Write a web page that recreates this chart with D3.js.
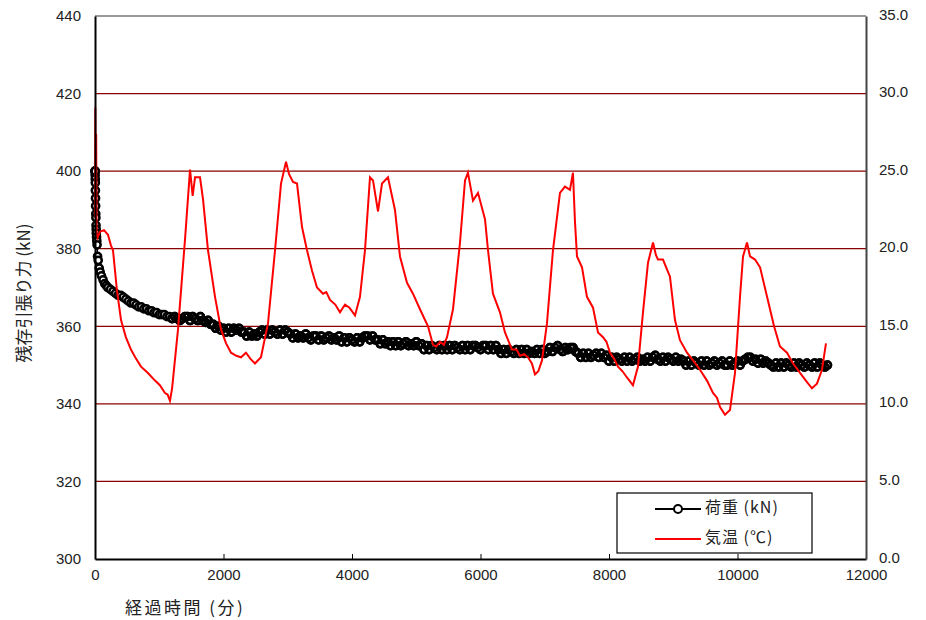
<!DOCTYPE html>
<html>
<head>
<meta charset="utf-8">
<script src="https://cdn.jsdelivr.net/npm/d3@7"></script>
<style>
  body { margin: 0; background: #fff; }
  text { font-family: "Liberation Sans", Arial, sans-serif; }
</style>
</head>
<body>
<div id="viz"></div>
<script>
// load readings (kN) in the first minutes
var loadEarlyMin = [0, 1, 2, 3, 4, 5, 6, 8, 10, 12, 14, 16, 18, 20, 24, 28, 32, 40, 50, 65, 80, 100, 125, 150, 175, 200];
var loadEarlyKN  = [400, 400, 399, 400, 398, 397, 395, 393, 391, 389, 388, 386, 385, 384, 383, 382, 381, 378, 377, 375, 374, 373, 372, 371, 370.5, 370];

// load readings (kN) every 40 min from 240 to 11400 min
var loadStep = 40, loadStart = 240;
var loadKN = [
  369.5, 369, 368.5, 368, 368, 367.5, 367, 366.5, 366, 366,
  365.5, 365, 365, 364.5, 364.5, 364, 364, 363.5, 363.5, 363,
  363, 363, 362.5, 362.5, 362, 362.5, 362, 361.5, 362, 362.5,
  362.5, 361.5, 362.5, 362, 361.5, 362.5, 361.5, 361, 361.5, 360.5,
  360.5, 359.5, 360, 359, 359.5, 358.5, 359.5, 358.5, 359.5, 359,
  359.5, 358.5, 358.5, 357.5, 358.5, 357.5, 358, 357.5, 358.5, 359,
  358, 359, 358, 359, 358.5, 358, 359, 358, 359, 358.5,
  358, 357, 358, 357, 357.5, 357, 358, 357, 356.5, 357.5,
  357.5, 356.5, 357.5, 356.5, 357, 357.5, 356.5, 357, 356.5, 357.5,
  356, 357, 356, 357, 356.5, 356, 357, 356, 357, 357.5,
  357.5, 356.5, 357.5, 356.5, 356.5, 355.5, 356.5, 355.5, 356, 355,
  356, 355, 356, 355, 355.5, 356, 355, 355.5, 355, 356,
  355, 355.5, 354, 355, 354, 355, 354.5, 354, 355, 354,
  355, 354, 355, 354, 355, 354.5, 354, 355, 354, 355,
  354, 355, 355, 354.5, 354, 355, 355, 354, 355, 354,
  355, 354, 353, 354, 353, 354, 353.5, 353, 354, 353,
  354, 353, 354, 353, 353.5, 353, 354, 353, 354, 353,
  353.5, 354.5, 353.5, 354.5, 355, 354, 353.5, 354.5, 354, 354.5,
  354.5, 353.5, 353, 352, 353, 352, 353, 352, 352.5, 353,
  352, 353, 352, 352.5, 351, 352, 351, 352, 351.5, 351,
  352, 351, 352, 351, 351.5, 352, 351, 351.5, 351, 352,
  351, 352, 352.5, 351.5, 351, 352, 351, 352, 351.5, 351,
  352, 351, 351.5, 351, 350, 351, 350, 351, 350.5, 350,
  351, 350, 351, 350, 350.5, 351, 350, 350.5, 351, 350,
  350, 351, 350, 350.5, 351, 350, 351, 351.5, 352, 352,
  351, 351.5, 350.5, 351.5, 350.5, 351, 350.5, 350, 349.5, 350.5,
  349.5, 350.5, 349.5, 350.5, 350, 349.5, 350.5, 349.5, 350.5, 350,
  349.5, 350.5, 350, 349.5, 350.5, 349.5, 350.5, 350, 349.5, 350
];

// air temperature (deg C)
var tempMin = [0, 5, 12, 18, 25, 40, 78, 140, 202, 249, 280, 342, 405, 480, 560, 640, 716, 820, 934, 1010, 1089, 1130, 1167,
  1200, 1292, 1401, 1479, 1520, 1557, 1634, 1681, 1759, 1868, 1961, 2040, 2117, 2200, 2272, 2350, 2420, 2490, 2583, 2693, 2802,
  2895, 2973, 3020, 3082, 3144, 3222, 3300, 3377, 3455, 3549, 3600, 3658, 3740, 3813, 3891, 3960, 4047, 4124, 4202, 4280,
  4327, 4405, 4467, 4560, 4669, 4747, 4856, 4949, 5058, 5183, 5261, 5310, 5370, 5430, 5479, 5572, 5681, 5759,
  5805, 5883, 5961, 6070, 6117, 6194, 6303, 6381, 6490, 6560, 6615, 6680, 6739, 6800, 6848, 6900, 6957, 7035, 7128, 7237,
  7315, 7393, 7439, 7471, 7502, 7580, 7657, 7751, 7829, 7907, 7960, 8015, 8080, 8140, 8210, 8280, 8373, 8451, 8529,
  8607, 8685, 8730, 8762, 8840, 8949, 9027, 9105, 9214, 9308, 9416, 9525, 9619, 9680, 9728, 9805, 9883, 9961,
  10039, 10086, 10148, 10195, 10273, 10351, 10460, 10569, 10661, 10770, 10864, 10973, 11082, 11159,
  11237, 11315, 11377];
var tempC = [22.0, 29.1, 24.5, 27.4, 21.0, 20.7, 21.1, 21.2, 20.9, 20.2, 19.9, 17.3, 15.4, 14.3, 13.5, 12.9, 12.4, 12.0, 11.5, 11.2, 10.7, 10.6, 10.2,
  11.0, 14.8, 20.6, 25.1, 23.4, 24.6, 24.6, 23.2, 19.9, 16.9, 14.8, 13.9, 13.3, 13.1, 13.0, 13.3, 12.9, 12.6, 13.0, 15.2, 19.9,
  24.2, 25.6, 24.8, 24.3, 24.2, 21.4, 19.9, 18.6, 17.5, 17.1, 17.2, 16.7, 16.4, 15.9, 16.4, 16.2, 15.7, 16.9, 19.9, 24.6,
  24.4, 22.4, 24.2, 24.6, 22.5, 19.5, 17.8, 17.1, 16.1, 15.0, 13.8, 13.7, 14.0, 13.8, 14.3, 16.1, 20.4, 24.4,
  24.9, 23.1, 23.6, 21.9, 19.9, 17.1, 15.9, 14.6, 13.5, 13.5, 13.1, 13.2, 13.0, 12.6, 11.9, 12.1, 12.8, 15.2, 19.9, 23.6,
  24.0, 23.8, 24.9, 21.7, 19.5, 18.8, 16.9, 16.2, 14.6, 14.3, 14.0, 13.3, 12.9, 12.4, 12.1, 11.7, 11.2, 12.4, 15.9,
  19.1, 20.4, 19.6, 19.3, 19.3, 18.2, 15.4, 14.1, 13.3, 12.8, 12.2, 11.5, 10.7, 10.4, 9.8, 9.3, 9.6, 12.0,
  16.9, 19.5, 20.4, 19.5, 19.3, 18.8, 16.9, 15.0, 13.7, 13.3, 12.6, 12.0, 11.4, 11.0,
  11.3, 12.2, 13.9];

var xTicks = [0, 2000, 4000, 6000, 8000, 10000, 12000];
var leftTicks = [300, 320, 340, 360, 380, 400, 420, 440];
var rightTicks = [0, 5, 10, 15, 20, 25, 30, 35];

const margin = {top: 16, right: 60, bottom: 61, left: 95},
    width = 926 - margin.left - margin.right,
    height = 620 - margin.top - margin.bottom;

const svg = d3.select("#viz")
  .append("svg")
    .attr("width", 926)
    .attr("height", 620)
  .append("g")
    .attr("transform", `translate(${margin.left},${margin.top})`);

const x = d3.scaleLinear().domain([0, 12000]).range([0, width]);
const yL = d3.scaleLinear().domain([300, 440]).range([height, 0]);
const yR = d3.scaleLinear().domain([0, 35]).range([height, 0]);

// build load series
var load = loadEarlyMin.map(function(t, i) { return {t: t, v: loadEarlyKN[i]}; });
loadKN.forEach(function(v, i) { load.push({t: loadStart + i * loadStep, v: v}); });
var temp = tempMin.map(function(t, i) { return {t: t, v: tempC[i]}; });

// grid lines
svg.selectAll(".grid")
  .data(leftTicks.filter(function(d) { return d > 300 && d < 440; }))
  .join("line")
    .attr("x1", 0).attr("x2", width)
    .attr("y1", function(d) { return yL(d); })
    .attr("y2", function(d) { return yL(d); })
    .attr("stroke", "#8b0000")
    .attr("stroke-width", 1.2);

// frame top
svg.append("line").attr("x1", 0).attr("x2", width).attr("y1", 0).attr("y2", 0)
  .attr("stroke", "#777").attr("stroke-width", 1.5);

// load line + markers
svg.append("path")
  .datum(load)
  .attr("fill", "none")
  .attr("stroke", "#000")
  .attr("stroke-width", 1.5)
  .attr("d", d3.line().x(function(d) { return x(d.t); }).y(function(d) { return yL(d.v); }));

svg.selectAll(".pt")
  .data(load)
  .join("circle")
    .attr("cx", function(d) { return x(d.t); })
    .attr("cy", function(d) { return yL(d.v); })
    .attr("r", 3.6)
    .attr("fill", "#fff")
    .attr("stroke", "#000")
    .attr("stroke-width", 2.5);

// dense part: ring outlines stacked on top so the band reads as in the original
svg.selectAll(".ring")
  .data(load.filter(function(d) { return d.t >= 1200; }))
  .join("circle")
    .attr("cx", function(d) { return x(d.t); })
    .attr("cy", function(d) { return yL(d.v); })
    .attr("r", 3.6)
    .attr("fill", "none")
    .attr("stroke", "#000")
    .attr("stroke-width", 2.5);

// temperature line
svg.append("path")
  .datum(temp)
  .attr("fill", "none")
  .attr("stroke", "#ff0000")
  .attr("stroke-width", 2)
  .attr("d", d3.line().x(function(d) { return x(d.t); }).y(function(d) { return yR(d.v); }));

// axes
var ax = svg.append("g")
  .attr("transform", `translate(0,${height})`)
  .call(d3.axisBottom(x).tickValues(xTicks).tickSizeInner(-5).tickSizeOuter(0).tickPadding(10).tickFormat(d3.format("d")));
var ay = svg.append("g")
  .call(d3.axisLeft(yL).tickValues(leftTicks).tickSize(0).tickPadding(14));
var ar = svg.append("g")
  .attr("transform", `translate(${width},0)`)
  .call(d3.axisRight(yR).tickValues(rightTicks).tickSize(0).tickPadding(13).tickFormat(d3.format(".1f")));

[ax, ay, ar].forEach(function(g) {
  g.selectAll("text").attr("font-size", 15).attr("font-family", "Liberation Sans, Arial, sans-serif").attr("fill", "#222");
  g.select(".domain").attr("stroke", "#000").attr("stroke-width", 2);
  g.selectAll(".tick line").attr("stroke", "#000");
});
ar.select(".domain").attr("stroke", "#444");
ar.selectAll(".tick text").attr("dy", "0.2em");

// axis titles
svg.append("text")
  .attr("transform", `translate(${25 - margin.left},${293 - margin.top}) rotate(-90)`)
  .attr("text-anchor", "middle")
  .attr("dominant-baseline", "middle")
  .style("font-family", "'Noto Sans CJK JP', sans-serif")
  .attr("font-size", 17)
  .attr("fill", "#222")
  .text("残存引張り力 (kN)");

svg.append("text")
  .attr("x", 125 - margin.left)
  .attr("y", 614 - margin.top)
  .style("font-family", "'Noto Sans CJK JP', sans-serif")
  .style("letter-spacing", "2.5px")
  .attr("font-size", 17)
  .attr("fill", "#222")
  .text("経過時間 (分)");

// legend
var lg = svg.append("g").attr("transform", `translate(${617 - margin.left},${493 - margin.top})`);
lg.append("rect").attr("width", 195).attr("height", 60)
  .attr("fill", "#fff").attr("stroke", "#000").attr("stroke-width", 1.2);
lg.append("line").attr("x1", 38).attr("x2", 84).attr("y1", 16).attr("y2", 16)
  .attr("stroke", "#000").attr("stroke-width", 2);
lg.append("circle").attr("cx", 61).attr("cy", 16).attr("r", 4)
  .attr("fill", "#fff").attr("stroke", "#000").attr("stroke-width", 2);
lg.append("line").attr("x1", 38).attr("x2", 84).attr("y1", 46).attr("y2", 46)
  .attr("stroke", "#ff0000").attr("stroke-width", 2);
lg.selectAll(".lt")
  .data(["荷重 (kN)", "気温 (℃)"])
  .join("text")
    .attr("x", 88)
    .attr("y", function(d, i) { return 16 + i * 30; })
    .attr("dominant-baseline", "middle")
    .style("font-family", "'Noto Sans CJK JP', sans-serif")
    .style("letter-spacing", "1px")
    .attr("font-size", 16)
    .attr("fill", "#222")
    .text(function(d) { return d; });
</script>
</body>
</html>
